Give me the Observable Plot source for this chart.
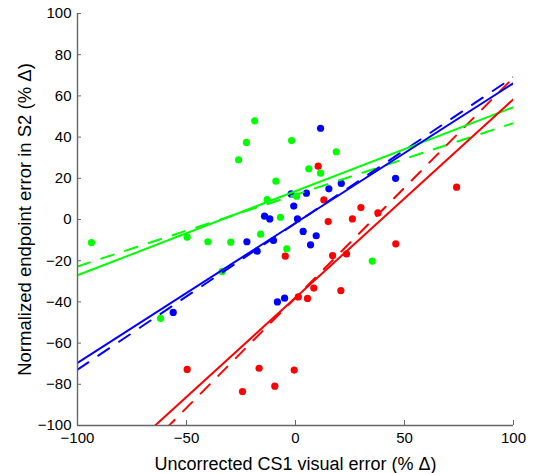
<!DOCTYPE html>
<html><head><meta charset="utf-8">
<script src="https://cdn.jsdelivr.net/npm/d3@7"></script>
<script src="https://cdn.jsdelivr.net/npm/@observablehq/plot@0.6"></script>
<style>body{margin:0;background:#fff}</style>
</head><body><div id="chart"></div>
<script>
// ---- data ----
const groups = ["series1", "series2", "series3"]; // drawn red, green, blue

const redX   = [-49.7, -24.3, -16.7, -9.5, -0.6, -4.7, 1.3, 5.5, 8.4, 20.8, 17, 23.4, 15, 26.1, 30, 37.8, 46, 13, 10.4, 73.9];
const redY   = [-72.8, -83.5, -72.2, -80.9, -73.1, -17.8, -37.6, -38.3, -33.3, -34.5, -17.5, -16.7, -1, 0.3, 5.8, 3.2, -11.8, 9.5, 25.9, 15.7];

const greenX = [-93.6, -61.9, -49.7, -40.2, -33.6, -29.7, -26.1, -22.5, -18.7, -16, -13, -9, -6.9, -4, -1.8, 0.5, 6.1, 11.5, 18.7, 35.2];
const greenY = [-11.2, -48, -8.6, -10.8, -25.2, -11, 29, 37.4, 47.9, -7.1, 9.7, 18.6, 1.1, -14.2, 38.3, 11.3, 24.6, 22.5, 32.9, -20.2];

const blueX  = [-56.1, -22.3, -17.6, -14.2, -11.8, -10.1, -8.3, -5, -2, -0.8, 0.9, 3.5, 6.9, 9.5, 5, 11.5, 15.3, 21, 45.9];
const blueY  = [-45.1, -10.8, -15.4, 1.6, 0.3, -10.2, -40, -38.2, 12.4, 6.5, 0.3, -5.8, -12.3, -7.9, 12.8, 44.3, 14.9, 17.5, 20];

// fitted lines (intercept, slope) per group, solid and dashed
const solidIntercept  = [-37.95, 13.75, -1.7];
const solidSlope      = [0.9635, 0.408, 0.679];
const dashedIntercept = [-38, 12, -1.85];
const dashedSlope     = [1.069, 0.348, 0.71];

const xTicks = [-100, -50, 0, 50, 100];
const yTicks = [-100, -80, -60, -40, -20, 0, 20, 40, 60, 80, 100];
const xDomain = [-100, 100];
const yDomain = [-100, 100];

// ---- build tables ----
const pts = [];
const addPts = (g, X, Y) => X.forEach((x, i) => pts.push({g, x, y: Y[i]}));
addPts(groups[0], redX, redY);
addPts(groups[2], blueX, blueY);
addPts(groups[1], greenX, greenY);

const fitLines = (A, B) => groups.flatMap((g, i) =>
  xDomain.map(x => ({g, x, y: A[i] + B[i] * x})));
const solid = fitLines(solidIntercept, solidSlope);
const dashed = fitLines(dashedIntercept, dashedSlope);

const fmt = d => d < 0 ? "\u2212" + (-d) : String(d);
const axisColor = "#666";
const colorScale = {domain: groups, range: ["#ff0000", "#00ff00", "#0000ff"]};

const lineOrder = [groups[1], groups[2], groups[0]];
const byOrder = arr => lineOrder.flatMap(g => arr.filter(d => d.g === g));

const chart = Plot.plot({
  width: 534, height: 473,
  marginLeft: 77, marginRight: 21, marginTop: 13, marginBottom: 48,
  style: {fontFamily: "'Liberation Sans', Arial, sans-serif", fontSize: "15px", color: "#000", background: "#fff"},
  x: {domain: xDomain},
  y: {domain: yDomain},
  color: colorScale,
  marks: [
    Plot.dot(pts, {x: "x", y: "y", fill: "g", r: 3.6, stroke: null}),
    Plot.line(byOrder(dashed), {x: "x", y: "y", z: "g", stroke: "g", strokeWidth: 2, strokeDasharray: "13,12", clip: true}),
    Plot.line(byOrder(solid), {x: "x", y: "y", z: "g", stroke: "g", strokeWidth: 2, clip: true}),
    Plot.ruleX([xDomain[0]], {stroke: axisColor, strokeWidth: 1.4}),
    Plot.ruleY([yDomain[0]], {stroke: axisColor, strokeWidth: 1.4}),
    Plot.axisX({ticks: xTicks, tickFormat: fmt, tickSize: -5, tickPadding: 12, stroke: axisColor, fontSize: 15,
      label: null}),
    Plot.axisX({ticks: [], label: "Uncorrected CS1 visual error (% Δ)", labelAnchor: "center", labelArrow: "none", labelOffset: 44, fontSize: 18}),
    Plot.axisY({ticks: yTicks, tickFormat: fmt, tickSize: -4, tickPadding: 10, stroke: axisColor, fontSize: 15,
      label: null}),
    Plot.axisY({ticks: [], label: "Normalized endpoint error in S2 (% Δ)", labelAnchor: "center", labelArrow: "none", labelOffset: 60, fontSize: 18.5})
  ]
});
document.getElementById("chart").appendChild(chart);
</script>
</body></html>
